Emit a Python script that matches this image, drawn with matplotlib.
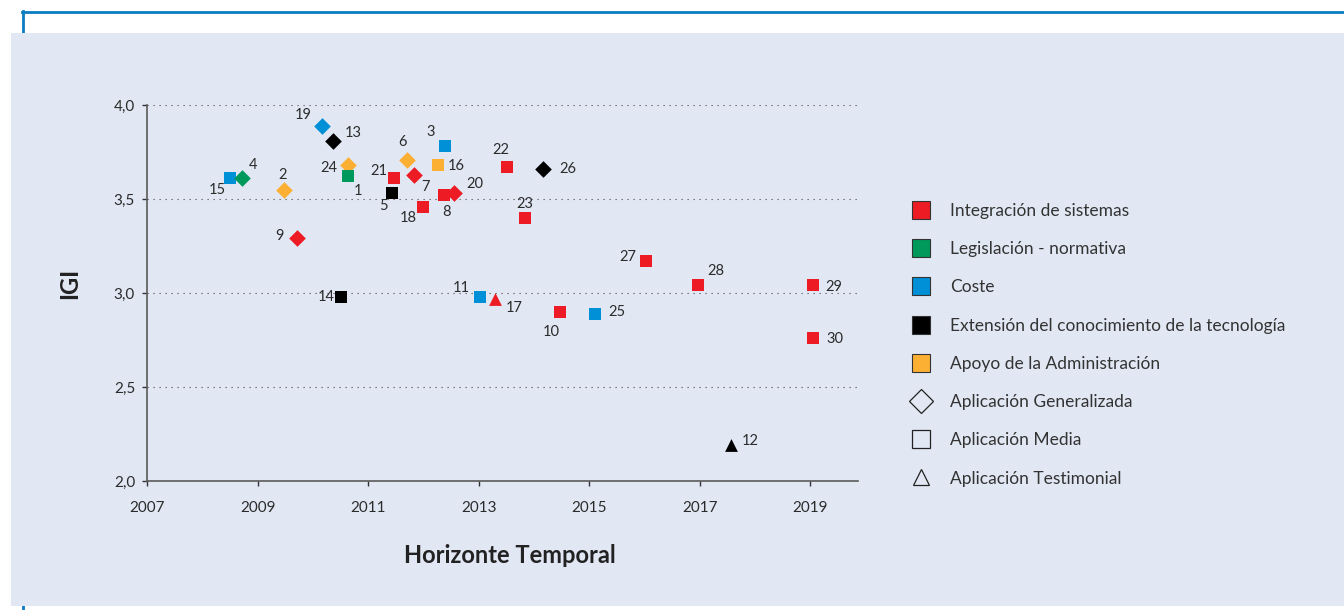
import matplotlib
matplotlib.use("Agg")
import matplotlib.pyplot as plt
from matplotlib.lines import Line2D
from matplotlib.patches import Rectangle
from matplotlib.ticker import FuncFormatter

plt.rcParams['font.family'] = ['Lato', 'DejaVu Sans']

# --- data ---
ids = list(range(1, 31))
horizonte = [2010.63, 2009.47, 2012.39, 2008.71, 2011.44, 2011.70, 2011.83, 2012.37,
             2009.71, 2014.47, 2013.02, 2017.56, 2010.36, 2010.51, 2008.50, 2012.26,
             2013.29, 2011.99, 2010.17, 2012.56, 2011.47, 2013.52, 2013.84, 2010.63,
             2015.10, 2014.16, 2016.02, 2016.96, 2019.04, 2019.04]
igi = [3.62, 3.55, 3.78, 3.61, 3.53, 3.71, 3.63, 3.52,
       3.29, 2.90, 2.98, 2.19, 3.81, 2.98, 3.61, 3.68,
       2.97, 3.46, 3.89, 3.53, 3.61, 3.67, 3.40, 3.68,
       2.89, 3.66, 3.17, 3.04, 3.04, 2.76]
# barrier category: I=integración, L=legislación, C=coste, E=extensión, A=apoyo
categoria = ['L', 'A', 'C', 'L', 'E', 'A', 'I', 'I', 'I', 'I', 'C', 'E', 'E', 'E', 'C',
             'A', 'I', 'I', 'C', 'I', 'I', 'I', 'I', 'A', 'C', 'E', 'I', 'I', 'I', 'I']
# application level: G=generalizada, M=media, T=testimonial
aplicacion = ['M', 'G', 'M', 'G', 'M', 'G', 'G', 'M', 'G', 'M', 'M', 'T', 'G', 'M', 'M',
              'M', 'T', 'M', 'G', 'G', 'M', 'M', 'M', 'G', 'M', 'G', 'M', 'M', 'M', 'M']

cat_names = {'I': 'Integración de sistemas', 'L': 'Legislación - normativa', 'C': 'Coste',
             'E': 'Extensión del conocimiento de la tecnología', 'A': 'Apoyo de la Administración'}
apl_names = {'G': 'Aplicación Generalizada', 'M': 'Aplicación Media', 'T': 'Aplicación Testimonial'}

# --- styles ---
cat_colors = {'I': '#ED1C24', 'L': '#00995C', 'C': '#0090D7', 'E': '#000000', 'A': '#FBB034'}
apl_marker = {'G': 'D', 'M': 's', 'T': '^'}
apl_size = {'G': 72, 'M': 75, 'T': 85}
draw_order = ['A', 'C', 'I', 'E', 'L']
# label offsets in points (dx, dy)
lab_off = {1: (7.2, -10.8), 2: (-1, 10.6), 3: (-10.3, 10.1), 4: (8.4, 9.4), 5: (-6.3, -9.4),
           6: (-2.9, 12.5), 7: (8.4, -9.1), 8: (1.9, -12.2), 9: (-12.5, 1.7), 10: (-6, -14.6),
           11: (-13.2, 6), 12: (13.7, 2.9), 13: (14.4, 5.5), 14: (-10.8, 0), 15: (-8.9, -8.4),
           16: (13, -0.9), 17: (13.7, -6.5), 18: (-10.6, -8.6), 19: (-13.7, 7.9), 20: (14.9, 6.7),
           21: (-10.8, 5), 22: (-4.8, 12.2), 23: (-0.5, 9.9), 24: (-13.5, -1.9), 25: (15.8, 1.2),
           26: (17.8, 0), 27: (-13, 2.9), 28: (13, 10.6), 29: (15.1, -1.4), 30: (15.8, -0.7)}

txt = '#2b2b2b'
W, H = 1344, 610
fig = plt.figure(figsize=(W / 100, H / 100), dpi=100)
fig.patch.set_facecolor('white')

# frame decoration
fig.add_artist(Line2D([23 / W, 23 / W], [0, 1 - 11 / H], color='#0A7DC2', lw=2, transform=fig.transFigure, zorder=0))
fig.add_artist(Rectangle((11 / W, 1 - 606 / H), 1 - 11 / W, (606 - 33) / H, transform=fig.transFigure,
                         facecolor='#E1E8F4', edgecolor='none', zorder=1))
fig.add_artist(Line2D([22 / W, 1], [1 - 11.5 / H, 1 - 11.5 / H], color='#0A7DC2', lw=2,
                      transform=fig.transFigure, zorder=2))

ax = fig.add_axes([147 / W, 1 - 481 / H, (858 - 147) / W, (481 - 105) / H])
ax.set_facecolor('none')
ax.set_zorder(3)

for c in draw_order:
    for a in ['M', 'G', 'T']:
        xs = [horizonte[i] for i in range(30) if categoria[i] == c and aplicacion[i] == a]
        ys = [igi[i] for i in range(30) if categoria[i] == c and aplicacion[i] == a]
        if xs:
            ax.scatter(xs, ys, s=apl_size[a], marker=apl_marker[a], color=cat_colors[c],
                       linewidths=0, zorder=3)

for i in range(30):
    dx, dy = lab_off[ids[i]]
    ax.annotate(str(ids[i]), (horizonte[i], igi[i]), xytext=(dx, dy), textcoords='offset points',
                ha='center', va='center', fontsize=10.5, color=txt, zorder=4)

ax.set_xlim(2007, 2019.86)
ax.set_ylim(2.0, 4.0)
ax.set_xticks(range(2007, 2020, 2))
ax.set_yticks([2.0, 2.5, 3.0, 3.5, 4.0])
ax.yaxis.set_major_formatter(FuncFormatter(lambda v, p: ('%.1f' % v).replace('.', ',')))
for v in [2.5, 3.0, 3.5, 4.0]:
    ax.axhline(v, color='#555555', lw=0.8, ls=(0, (1.1, 4.3)), zorder=1)

for s in ['top', 'right']:
    ax.spines[s].set_visible(False)
for s in ['left', 'bottom']:
    ax.spines[s].set_color('#5a5a5a')
    ax.spines[s].set_linewidth(1.2)
ax.tick_params(axis='x', direction='out', length=3.5, width=1, color='#333333',
               labelsize=11, labelcolor=txt, pad=11)
ax.tick_params(axis='y', direction='out', length=3.6, width=1, color='#333333',
               labelsize=11, labelcolor=txt, pad=5)

ax.set_xlabel('Horizonte Temporal', fontsize=17, fontweight='bold', color='#222222')
ax.xaxis.set_label_coords(0.51, -0.168)
ax.set_ylabel('IGI', fontsize=17, fontweight='bold', color='#222222')
ax.yaxis.set_label_coords(-0.092, 0.525)

# legend
handles = []
labels = []
for c in ['I', 'L', 'C', 'E', 'A']:
    handles.append(Line2D([], [], ls='none', marker='s', ms=13.5, mfc=cat_colors[c], mec='#333333', mew=0.8))
    labels.append(cat_names[c])
handles.append(Line2D([], [], ls='none', marker='D', ms=12.2, mfc='none', mec='#222222', mew=0.9))
labels.append(apl_names['G'])
handles.append(Line2D([], [], ls='none', marker='s', ms=13, mfc='none', mec='#222222', mew=0.9))
labels.append(apl_names['M'])
handles.append(Line2D([], [], ls='none', marker='^', ms=12, mfc='none', mec='#222222', mew=0.9))
labels.append(apl_names['T'])

leg = fig.legend(handles, labels, loc='upper left', bbox_to_anchor=(913 / W, 1 - 203 / H),
                 frameon=False, fontsize=12.5, labelspacing=1.28, handlelength=0.92,
                 handletextpad=1.2, borderpad=0, borderaxespad=0)
for t in leg.get_texts():
    t.set_color('#333333')
leg.set_zorder(5)

fig.savefig('out.png', dpi=100, facecolor='white')
